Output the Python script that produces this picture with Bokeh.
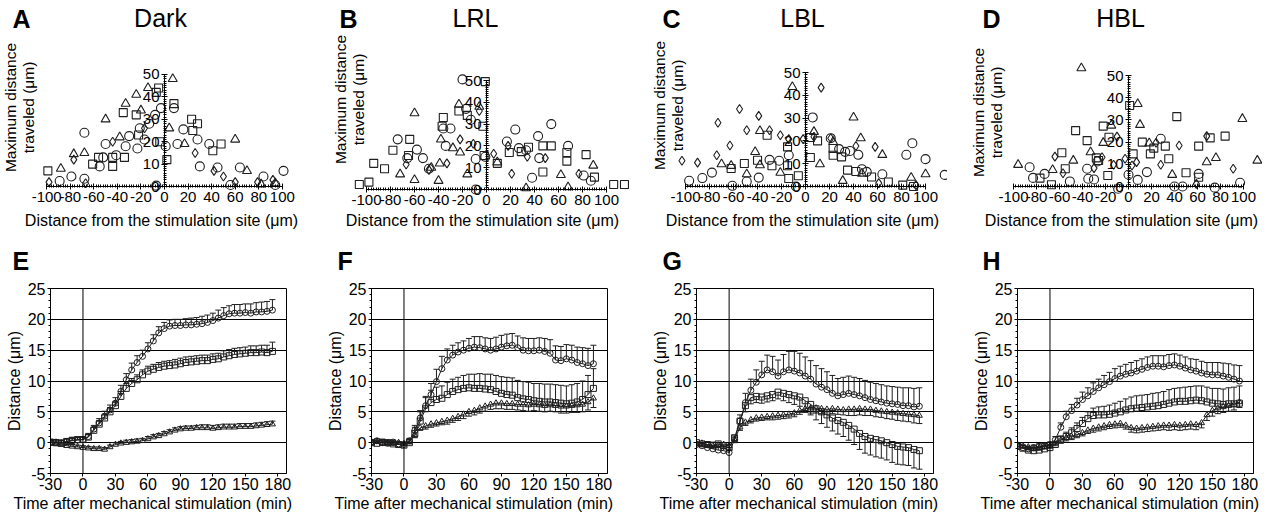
from bokeh.plotting import figure
from bokeh.models import (LinearAxis, FixedTicker, Label, Span, Whisker, TeeHead,
                          ColumnDataSource, Range1d, Title)
from bokeh.layouts import row, column
from bokeh.embed import file_html
from bokeh.resources import INLINE

FONT = "Liberation Sans"
INK = "#1e1e1e"

# ---------------- top row: scatter data (distance vs max distance travelled) ----------
a_circ_x = [-89, -79, -68, -68, -55, -50, -52, -41, -33, -30, -21, -23, -17, -13, -8, -3, 1, 8, 11, 16, 28, 30, 38, 45, 56, 64, 84, 94, 101, -7]
a_circ_y = [2.5, 4.5, 24, 3.5, 9, 19, 13, 14, 18, 22.5, 26, 17, 21, 28, 32, 35, 18, 35, 19, 25.5, 21, 9, 19, 8.5, 0.7, 8.5, 4.5, 0.7, 7, 0.4]
a_sq_x = [-99, -56, -61, -44, -44, -34, -35, -24, -22, -5, -4, 2, 8, 23, 28, 24, 41, 48, -7]
a_sq_y = [7, 13, 10, 9, 13, 13, 33, 32, 23, 44, 20, 12, 37, 30, 28, 25, 16, 19, 42]
a_tri_x = [-88, -77, -68, -50, -33, -24, -20, -14, -38, 7, 4, 17, 60, 70, 82, 94]
a_tri_y = [8, 14.5, 15, 30, 37, 41, 34, 44, 22, 48, 26, 19, 21, 7, 1, 1.5]
a_dia_x = [-98, -77, -44, -17, 26, 42, 50, 60, 79, 92, -67]
a_dia_y = [2, 12, 20, 26, 15, 7, 4.5, 2, 2, 3, 1.5]

b_circ_x = [-74, -66, -58, -53, -48, -34, -36, -30, -20, -17, -13, -9, -1, 17, 24, 27, 33, 38, 43, 44, 54, 68, 81, 87, -9]
b_circ_y = [23, 14.4, 18.3, 14.4, 9.5, 20, 28, 28, 50.5, 37, 32, 14, 15, 22, 27.5, 19, 18, 5.4, 24.5, 14.4, 30, 20, 6.4, 4, 0]
b_sq_x = [-106, -98, -94, -85, -78, -64, -65, -37, -36, -23, -16, -3, -1, -2, 9, 19, 29, 35, 47, 54, 67, 67, 83, 90, 106, 115, 47]
b_sq_y = [2.3, 3.4, 12, 9.5, 18, 23, 15.6, 29, 33, 36, 34, 29, 49.5, 15.6, 12, 17, 17.4, 19.4, 20, 20, 17, 13, 16, 5.7, 2.3, 2.3, 8]
b_tri_x = [-60, -72, -60, -46, -40, -39, -38, -28, -23, -22, -16, -6, 33, 62, 68, 89, 9]
b_tri_y = [35, 7, 4.4, 10, 4, 12, 23, 19, 39, 17, 7, 38, 0.6, 6.7, 1.1, 11, 12.5]
b_dia_x = [-67, -48, -33, -22, -11, -6, 6, 21, 34, 49, 18, 77]
b_dia_y = [11.5, 9, 12, 23, 21, 36, 16.4, 7.2, 15, 14.4, 20, 7.2]

c_circ_x = [-97, -86, -78, -61, -49, -39, -30, -22, -14, -8, 6, 21, 28, 33, 37, 44, 47, 51, 64, 84, 89, 100, 116]
c_circ_y = [2.5, 3.7, 6.1, 0.3, 2.2, 3.9, 11.7, 11.3, 13.7, 0, 30.3, 21.2, 16.4, 15.2, 15.6, 13.9, 7.6, 6.4, 5.4, 13.9, 19, 12, 5.1]
c_sq_x = [-62, -51, -40, -32, -28, -15, -15, -14, -6, 4, 4, 10, 23, 23, 30, 35, 42, 55, 69, 81, 90]
c_sq_y = [7.9, 10.1, 11.5, 22.5, 9.1, 9.1, 17.4, 3.5, 4.7, 12.7, 21.5, 20, 16.7, 13.7, 13, 7.2, 6.6, 4.2, 2, 0.6, 0]
c_tri_x = [-70, -62, -49, -42, -38, -38, -21, -11, 7, 12, 23, 40, 46, 47, 31, 64, 88, 100]
c_tri_y = [9.8, 9.1, 5.4, 15.2, 24.4, 9.4, 6.1, 43.7, 24, 9.8, 19.6, 30.3, 21.2, 5.7, 2.5, 13.9, 3.9, 5.4]
c_dia_x = [-103, -90, -73, -74, -63, -55, -49, -39, -30, -21, -14, -2, 13, 7, 21, 42, 58, 61, 92]
c_dia_y = [11.3, 10.5, 28, 13.7, 18, 34, 24.7, 31, 24.7, 22.5, 20.8, 20.8, 43.4, 21.8, 21.2, 17.8, 17.4, 1.5, 0.6]

d_circ_x = [-86, -83, -73, -51, -36, -30, -9, 0, 8, 16, 28, 40, 47, 61, 75, 97, -27, -35]
d_circ_y = [8.7, 3.9, 5.7, 2.3, 8, 3.2, -1, 5.3, 3, 6.5, 21.5, 0, 0, 5.7, -0.5, 1.7, 11.3, 3.5]
d_sq_x = [-77, -67, -58, -55, -46, -36, -28, -26, -22, -18, -17, 1, 4, 12, 22, 19, 32, 35, 42, 50, 61, 61, 71, 84]
d_sq_y = [3.8, 0.8, 15.2, 8, 25.2, 20.7, 12.9, 11.7, 27.2, 5, 22.2, 36.5, 14.7, 20, 17.3, 14.7, 18.2, 12.5, 31.5, 6.2, 18.2, 4.2, 21.9, 22.7]
d_tri_x = [-96, -66, -48, -41, -33, -22, -15, 8, 10, 18, 38, 68, 76, 99, 112]
d_tri_y = [9.8, 7.5, 11.7, 53.3, 15.5, 19.7, 27.5, 37.2, 27.8, 19.5, 5.3, 11, 12.9, 30.5, 11.7]
d_dia_x = [-64, -57, -30, -23, -13, -10, -3, 3, 7, 24, 28, 44, 59, 68, 91]
d_dia_y = [13.5, 6, 8.3, 13.2, 9.8, 22.5, 12.5, 9.5, 11, 19.7, 9.8, 18.5, 1.2, 22.7, 8]

top_x_ticks = [-100, -80, -60, -40, -20, 0, 20, 40, 60, 80, 100]
top_y_ticks = [0, 10, 20, 30, 40, 50]

# ---------------- bottom row: time courses ----------------
times = [-30, -25, -20, -15, -10, -5, 0,
         5, 10, 15, 20, 25, 30, 35,
         40, 45, 50, 55, 60, 65, 70,
         75, 80, 85, 90, 95, 100, 105,
         110, 115, 120, 125, 130, 135, 140,
         145, 150, 155, 160, 165, 170, 175]

e_circ = [0.0, 0.1, 0.0, 0.2, 0.3, 0.4, 0.5,
          1.0, 2.2, 3.2, 4.3, 5.3, 6.4, 8.3,
          10.2, 11.8, 13.0, 14.0, 15.2, 16.5, 17.8,
          18.5, 18.9, 19.0, 19.0, 19.1, 19.1, 19.2,
          19.3, 19.5, 19.8, 20.2, 20.6, 20.9, 21.0,
          21.0, 21.1, 21.0, 21.2, 21.2, 21.3, 21.5]
e_circ_err = [0.4, 0.4, 0.4, 0.4, 0.4, 0.4, 0.4,
              0.5, 0.6, 0.7, 0.8, 0.8, 0.9, 1.0,
              1.0, 1.1, 1.1, 1.0, 1.0, 1.0, 1.0,
              1.0, 1.0, 1.0, 1.0, 1.0, 1.1, 1.1,
              1.2, 1.2, 1.2, 1.3, 1.3, 1.3, 1.4,
              1.4, 1.4, 1.5, 1.5, 1.6, 1.6, 1.7]
e_sq = [0.1, 0.0, -0.1, 0.2, 0.4, 0.5, 0.5,
        0.9, 2.0, 3.0, 4.0, 5.0, 6.0, 7.5,
        8.8, 9.6, 10.2, 11.0, 11.6, 11.9, 12.2,
        12.4, 12.5, 12.6, 12.8, 13.0, 13.1, 13.2,
        13.3, 13.3, 13.5, 13.6, 13.9, 14.1, 14.3,
        14.4, 14.5, 14.6, 14.6, 14.7, 14.6, 14.8]
e_sq_err = [0.4, 0.4, 0.4, 0.4, 0.4, 0.4, 0.4,
            0.4, 0.5, 0.6, 0.6, 0.7, 0.7, 0.8,
            0.8, 0.8, 0.8, 0.8, 0.8, 0.8, 0.8,
            0.8, 0.8, 0.9, 0.9, 0.9, 0.9, 0.9,
            0.9, 0.9, 0.9, 0.9, 1.0, 1.0, 1.0,
            1.0, 1.0, 1.1, 1.1, 1.1, 1.2, 1.5]
e_tri = [0.0, -0.2, -0.3, -0.5, -0.6, -0.7, -0.8,
         -0.9, -1.0, -1.0, -1.1, -0.7, -0.3, -0.1,
         0.0, 0.1, 0.2, 0.3, 0.6, 0.9, 1.1,
         1.4, 1.7, 2.0, 2.2, 2.3, 2.3, 2.4,
         2.4, 2.4, 2.3, 2.4, 2.5, 2.5, 2.5,
         2.6, 2.6, 2.6, 2.7, 2.8, 2.9, 3.0]
e_tri_err = [0.3, 0.3, 0.3, 0.3, 0.3, 0.3, 0.3,
             0.3, 0.3, 0.3, 0.3, 0.3, 0.3, 0.3,
             0.4, 0.4, 0.4, 0.4, 0.4, 0.4, 0.4,
             0.4, 0.4, 0.4, 0.4, 0.4, 0.4, 0.4,
             0.5, 0.5, 0.5, 0.5, 0.5, 0.5, 0.5,
             0.5, 0.5, 0.5, 0.5, 0.5, 0.5, 0.5]

f_circ = [0.1, 0.3, 0.0, -0.1, 0.1, -0.2, -0.3,
          0.3, 2.0, 4.0, 6.0, 7.8, 9.9, 12.0,
          13.4, 14.2, 14.7, 15.0, 15.3, 15.5, 15.4,
          15.2, 15.0, 15.2, 15.5, 15.7, 15.8, 15.4,
          15.0, 14.9, 14.9, 15.0, 14.8, 14.5, 13.4,
          13.3, 13.6, 13.4, 13.0, 12.8, 12.5, 12.8]
f_circ_err = [0.3, 0.3, 0.3, 0.3, 0.3, 0.3, 0.3,
              0.4, 0.8, 1.2, 1.5, 1.8, 2.0, 2.0,
              1.8, 1.6, 1.5, 1.5, 1.6, 1.7, 1.8,
              1.8, 1.9, 1.9, 1.9, 1.9, 1.9, 1.9,
              2.0, 2.0, 2.0, 2.0, 2.1, 2.2, 2.3,
              2.3, 2.3, 2.4, 2.5, 2.6, 2.8, 3.0]
f_sq = [0.0, -0.1, 0.1, 0.0, -0.2, -0.3, -0.4,
        0.0, 1.5, 3.5, 5.5, 6.5, 7.0, 7.2,
        7.8, 8.3, 8.6, 8.8, 8.9, 8.8, 8.8,
        8.7, 8.6, 8.3, 8.0, 7.8, 7.7, 7.3,
        7.1, 7.0, 6.8, 6.7, 6.6, 6.6, 6.5,
        6.4, 6.3, 6.4, 6.6, 7.0, 7.8, 8.8]
f_sq_err = [0.4, 0.4, 0.4, 0.4, 0.4, 0.4, 0.4,
            0.5, 1.0, 1.5, 1.8, 2.0, 2.0, 2.0,
            2.0, 2.0, 2.0, 2.1, 2.2, 2.3, 2.4,
            2.4, 2.5, 2.6, 2.7, 2.8, 2.8, 2.8,
            2.8, 2.8, 2.8, 2.9, 2.9, 2.9, 2.9,
            2.9, 2.9, 3.0, 3.0, 3.0, 3.1, 3.2]
f_tri = [0.0, 0.2, -0.1, 0.0, -0.1, 0.0, -0.2,
         0.2, 1.2, 2.4, 2.7, 3.0, 3.2, 3.4,
         3.6, 3.9, 4.2, 4.6, 5.0, 5.2, 5.6,
         5.9, 6.2, 6.4, 6.4, 6.3, 6.3, 6.2,
         6.2, 6.1, 6.2, 6.1, 6.0, 6.1, 6.0,
         5.9, 5.9, 6.0, 6.1, 6.2, 6.6, 7.2]
f_tri_err = [0.3, 0.3, 0.3, 0.3, 0.3, 0.3, 0.3,
             0.4, 0.4, 0.4, 0.5, 0.5, 0.5, 0.5,
             0.6, 0.6, 0.6, 0.7, 0.7, 0.7, 0.8,
             0.8, 0.8, 0.9, 0.9, 0.9, 0.9, 0.9,
             1.0, 1.0, 1.0, 1.0, 1.0, 1.0, 1.0,
             1.1, 1.1, 1.1, 1.2, 1.2, 1.3, 1.5]

g_circ = [-0.3, -0.5, -0.8, -1.0, -1.2, -1.3, -1.6,
          0.5, 3.5, 6.5, 8.5, 9.8, 11.0, 11.8,
          11.5, 10.8, 11.5, 11.8, 11.6, 11.3, 10.8,
          10.3, 9.5, 9.0, 8.6, 8.0, 7.6, 7.8,
          8.0, 7.8, 7.6, 7.3, 7.0, 6.8, 6.6,
          6.4, 6.3, 6.2, 6.0, 6.0, 5.8, 5.9]
g_circ_err = [0.4, 0.4, 0.4, 0.4, 0.4, 0.4, 0.4,
              0.6, 1.0, 1.5, 1.8, 2.0, 2.2, 2.4,
              2.5, 2.6, 2.8, 3.0, 3.2, 3.2, 3.1,
              3.0, 3.0, 3.0, 2.9, 2.9, 2.8, 2.8,
              2.8, 2.8, 2.8, 2.8, 2.8, 2.8, 2.8,
              2.8, 2.8, 2.8, 2.9, 2.9, 3.0, 3.0]
g_sq = [0.0, -0.2, -0.3, -0.4, -0.2, -0.5, -0.8,
        0.8, 3.5, 6.0, 7.3, 7.5, 7.4, 7.6,
        7.8, 8.2, 8.0, 7.8, 7.6, 7.4, 6.8,
        6.2, 5.5, 5.0, 4.5, 4.0, 3.6, 3.3,
        2.8, 2.2, 1.5, 1.0, 0.7, 0.5, 0.3,
        0.0, -0.3, -0.6, -0.7, -0.8, -1.1, -1.3]
g_sq_err = [0.4, 0.4, 0.4, 0.4, 0.4, 0.4, 0.4,
            0.5, 0.8, 1.0, 1.0, 1.0, 1.0, 1.0,
            1.0, 1.1, 1.2, 1.3, 1.4, 1.5, 1.6,
            1.7, 1.8, 1.9, 2.0, 2.1, 2.2, 2.3,
            2.4, 2.5, 2.6, 2.7, 2.7, 2.8, 2.8,
            2.8, 2.9, 2.9, 2.9, 2.9, 3.0, 3.0]
g_tri = [-0.2, -0.1, -0.3, -0.5, -0.4, -0.3, -0.5,
         0.5, 2.5, 3.3, 3.7, 4.0, 4.1, 4.2,
         4.3, 4.4, 4.5, 4.6, 4.8, 5.2, 5.5,
         5.6, 5.6, 5.5, 5.4, 5.5, 5.4, 5.3,
         5.4, 5.4, 5.5, 5.4, 5.4, 5.2, 5.1,
         5.0, 4.9, 4.8, 4.7, 4.6, 4.5, 4.4]
g_tri_err = [0.3, 0.3, 0.3, 0.3, 0.3, 0.3, 0.3,
             0.5, 0.5, 0.5, 0.5, 0.5, 0.5, 0.5,
             0.6, 0.6, 0.6, 0.6, 0.6, 0.6, 0.6,
             0.8, 0.8, 0.8, 0.8, 0.8, 0.8, 0.8,
             1.0, 1.0, 1.0, 1.0, 1.0, 1.0, 1.0,
             1.1, 1.1, 1.2, 1.2, 1.2, 1.3, 1.3]

h_circ = [-0.5, -0.8, -1.0, -0.8, -0.6, -0.5, -0.3,
          0.5, 2.5, 4.2, 5.2, 6.1, 7.0, 7.6,
          8.3, 8.9, 9.4, 9.9, 10.4, 10.8, 11.1,
          11.3, 11.6, 11.9, 12.2, 12.4, 12.4, 12.3,
          12.5, 12.6, 12.4, 12.1, 11.8, 11.6, 11.3,
          11.1, 11.0, 11.0, 10.8, 10.6, 10.3, 10.0]
h_circ_err = [0.4, 0.4, 0.4, 0.4, 0.4, 0.4, 0.4,
              0.5, 0.7, 0.9, 1.0, 1.1, 1.2, 1.3,
              1.4, 1.4, 1.5, 1.5, 1.6, 1.6, 1.6,
              1.7, 1.7, 1.7, 1.7, 1.7, 1.7, 1.8,
              1.8, 1.8, 1.8, 1.8, 1.8, 1.9, 1.9,
              1.9, 2.0, 2.0, 2.1, 2.2, 2.3, 2.5]
h_sq = [-0.6, -0.9, -1.2, -1.3, -1.2, -1.0, -0.8,
        -0.3, 0.5, 1.0, 1.6, 2.3, 3.1, 3.9,
        4.4, 4.5, 4.5, 4.6, 4.8, 5.0, 5.3,
        5.5, 5.6, 5.7, 5.8, 5.9, 6.0, 6.2,
        6.4, 6.6, 6.7, 6.7, 6.8, 6.9, 6.8,
        6.6, 6.4, 6.3, 6.2, 6.3, 6.3, 6.4]
h_sq_err = [0.4, 0.4, 0.4, 0.4, 0.4, 0.4, 0.4,
            0.5, 0.6, 0.7, 0.8, 0.9, 1.0, 1.1,
            1.2, 1.3, 1.4, 1.5, 1.6, 1.7, 1.8,
            1.9, 2.0, 2.0, 2.0, 2.1, 2.1, 2.1,
            2.2, 2.2, 2.2, 2.3, 2.3, 2.3, 2.4,
            2.4, 2.4, 2.5, 2.5, 2.6, 2.7, 2.8]
h_tri = [-0.3, -0.5, -0.7, -0.9, -0.8, -0.6, -0.5,
         0.0, 0.4, 0.8, 1.0, 1.3, 1.6, 2.0,
         2.3, 2.5, 2.7, 2.9, 3.0, 3.1, 2.8,
         2.4, 2.3, 2.4, 2.5, 2.6, 2.7, 2.8,
         2.8, 2.9, 2.8, 2.9, 3.0, 2.9, 3.2,
         4.5, 5.2, 5.6, 5.8, 6.0, 6.2, 6.6]
h_tri_err = [0.4, 0.4, 0.4, 0.4, 0.4, 0.4, 0.4,
             0.5, 0.5, 0.5, 0.5, 0.5, 0.5, 0.5,
             0.6, 0.6, 0.6, 0.6, 0.6, 0.6, 0.6,
             0.7, 0.7, 0.7, 0.7, 0.7, 0.7, 0.7,
             0.8, 0.8, 0.8, 0.8, 0.8, 0.8, 0.8,
             0.9, 0.9, 0.9, 0.9, 0.9, 0.9, 0.9]

bottom_x_ticks = [-30, 0, 30, 60, 90, 120, 150, 180]
bottom_y_ticks = [-5, 0, 5, 10, 15, 20, 25]
bottom_grid = [0, 5, 10, 15, 20]

TOP_H = 230
BOT_H = 282
TXT = "16px"
BIG = "25px"


def hyphen_labels(ticks):
    # plain hyphen-minus for negative tick labels, as in the printed figure
    return {t: str(t) for t in ticks if t < 0}


def screen_label(p, x, y, text, size=TXT, bold=False, align="left", angle=0):
    p.add_layout(Label(x=x, y=y, x_units="screen", y_units="screen", text=text,
                       text_font=FONT, text_font_size=size,
                       text_font_style="bold" if bold else "normal",
                       text_align=align, text_baseline="middle", text_color="black",
                       text_line_height=1.05, angle=angle, angle_units="deg"))


def style_axis(ax, tick_size=TXT):
    ax.axis_line_color = "black"
    ax.axis_line_width = 1
    ax.major_tick_line_color = "black"
    ax.minor_tick_line_color = "black"
    ax.major_label_text_font = FONT
    ax.major_label_text_font_size = tick_size
    ax.major_label_text_color = "black"
    ax.axis_label_text_font = FONT
    ax.axis_label_text_font_size = TXT
    ax.axis_label_text_font_style = "normal"
    ax.axis_label_text_color = "black"


def top_panel(width, xr, yr, letter, title, lx, tx, yl_x, yl_y, xl_x, series):
    p = figure(width=width, height=TOP_H, x_range=Range1d(*xr), y_range=Range1d(*yr),
               x_axis_type=None, y_axis_type=None, toolbar_location=None,
               output_backend="svg", min_border=0)
    p.outline_line_color = None
    xaxis = LinearAxis(fixed_location=0, bounds=(-100, 100),
                       ticker=FixedTicker(ticks=top_x_ticks, minor_ticks=list(range(-100, 101, 2))),
                       major_label_overrides=hyphen_labels(top_x_ticks))
    yaxis = LinearAxis(fixed_location=0, bounds=(0, 50),
                       ticker=FixedTicker(ticks=top_y_ticks, minor_ticks=list(range(0, 51))))
    for ax in (xaxis, yaxis):
        style_axis(ax, "15px")
        ax.major_tick_in = 3
        ax.major_tick_out = 3
        ax.minor_tick_in = 2
        ax.minor_tick_out = 1
        ax.major_label_standoff = 2
    p.add_layout(xaxis, "below")
    p.add_layout(yaxis, "left")
    for xs, ys, m, s in series:
        p.scatter(x=xs, y=ys, marker=m, size=s, fill_alpha=0, line_color=INK, line_width=1.1)
    screen_label(p, lx, 212, letter, size=BIG, bold=True)
    screen_label(p, tx, 213, title, size=BIG, align="center")
    screen_label(p, yl_x, yl_y, "Maximum distance\ntraveled (μm)", size="15.5px",
                 align="center", angle=90)
    screen_label(p, xl_x, 10, "Distance from the stimulation site (μm)", size=TXT, align="center")
    return p


def bottom_panel(width, bl, br, letter, lx, series):
    p = figure(width=width, height=BOT_H, x_range=Range1d(-30, 188), y_range=Range1d(-5, 25),
               toolbar_location=None, output_backend="svg", title=letter,
               min_border_left=bl, min_border_right=br, min_border_top=57, min_border_bottom=39)
    p.title.text_font = FONT
    p.title.text_font_size = BIG
    p.title.text_font_style = "bold"
    p.title.text_color = "black"
    p.title.align = "left"
    p.title.offset = lx
    p.title.standoff = 28
    p.outline_line_color = "black"
    p.outline_line_width = 1
    p.xgrid.visible = False
    p.ygrid.ticker = FixedTicker(ticks=bottom_grid)
    p.ygrid.grid_line_color = "black"
    p.ygrid.grid_line_width = 1
    p.xaxis.ticker = FixedTicker(ticks=bottom_x_ticks)
    p.xaxis.major_label_overrides = hyphen_labels(bottom_x_ticks)
    p.yaxis.ticker = FixedTicker(ticks=bottom_y_ticks, minor_ticks=list(range(-5, 26)))
    p.yaxis.major_label_overrides = hyphen_labels(bottom_y_ticks)
    p.yaxis.axis_label = "Distance (μm)"
    for ax in (p.xaxis[0], p.yaxis[0]):
        style_axis(ax)
        ax.major_tick_in = 0
        ax.major_tick_out = 3
        ax.minor_tick_in = 0
        ax.minor_tick_out = 2
        ax.major_label_standoff = 1
    p.yaxis.major_label_standoff = 2
    p.yaxis.axis_label_standoff = 2
    p.xaxis.minor_tick_out = 0
    p.add_layout(Title(text="Time after mechanical stimulation (min)", align="left", offset=-37,
                       standoff=0, text_font=FONT, text_font_size=TXT, text_font_style="normal",
                       text_color="black", vertical_align="bottom"), "below")
    p.add_layout(Span(location=0, dimension="height", line_color="black", line_width=1))
    for ys, err, direction, m in series:
        if direction > 0:
            lo = ys
            hi = [v + e for v, e in zip(ys, err)]
        else:
            lo = [v - e for v, e in zip(ys, err)]
            hi = ys
        src = ColumnDataSource(dict(t=times, lo=lo, hi=hi))
        w = Whisker(source=src, base="t", lower="lo", upper="hi", dimension="height",
                    line_color=INK, line_width=1,
                    upper_head=TeeHead(size=6, line_color=INK, line_width=1) if direction > 0 else None,
                    lower_head=TeeHead(size=6, line_color=INK, line_width=1) if direction < 0 else None)
        p.add_layout(w)
        p.line(times, ys, line_color=INK, line_width=1)
        p.scatter(times, ys, marker=m, size=6, fill_alpha=0, line_color=INK, line_width=1)
    return p


def quad(cx, cy, sx, sy, tx, ty, dx, dy):
    return [(cx, cy, "circle", 9), (sx, sy, "square", 8),
            (tx, ty, "triangle", 9), (dx, dy, "diamond", 9)]


pA = top_panel(316, (-139.2, 129.0), (-19.6, 83.0), "A", "Dark", 12, 160, 19, 123, 161,
               quad(a_circ_x, a_circ_y, a_sq_x, a_sq_y, a_tri_x, a_tri_y, a_dia_x, a_dia_y))
pB = top_panel(316, (-141.7, 121.7), (-18.8, 86.7), "B", "LRL", 23, 159, 33, 131, 166,
               quad(b_circ_x, b_circ_y, b_sq_x, b_sq_y, b_tri_x, b_tri_y, b_dia_x, b_dia_y))
pC = top_panel(315, (-144.2, 118.3), (-19.3, 81.6), "C", "LBL", 30, 170, 36, 125, 170,
               quad(c_circ_x, c_circ_y, c_sq_x, c_sq_y, c_tri_x, c_tri_y, c_dia_x, c_dia_y))
pD = top_panel(315, (-157.4, 116.5), (-19.8, 83.8), "D", "HBL", 35, 173, 40, 118, 174,
               quad(d_circ_x, d_circ_y, d_sq_x, d_sq_y, d_tri_x, d_tri_y, d_dia_x, d_dia_y))

pE = bottom_panel(316, 50, 30, "E", -38,
                  [(e_tri, e_tri_err, 1, "triangle"), (e_sq, e_sq_err, 1, "square"),
                   (e_circ, e_circ_err, 1, "circle")])
pF = bottom_panel(316, 55, 25, "F", -34,
                  [(f_tri, f_tri_err, -1, "triangle"), (f_sq, f_sq_err, 1, "square"),
                   (f_circ, f_circ_err, 1, "circle")])
pG = bottom_panel(315, 64, 14, "G", -34,
                  [(g_tri, g_tri_err, -1, "triangle"), (g_sq, g_sq_err, -1, "square"),
                   (g_circ, g_circ_err, 1, "circle")])
pH = bottom_panel(315, 70, 9, "H", -35,
                  [(h_tri, h_tri_err, -1, "triangle"), (h_sq, h_sq_err, 1, "square"),
                   (h_circ, h_circ_err, 1, "circle")])

layout = column(row(pA, pB, pC, pD), row(pE, pF, pG, pH))
open("out.html", "w").write(file_html(layout, INLINE, title="Figure"))
